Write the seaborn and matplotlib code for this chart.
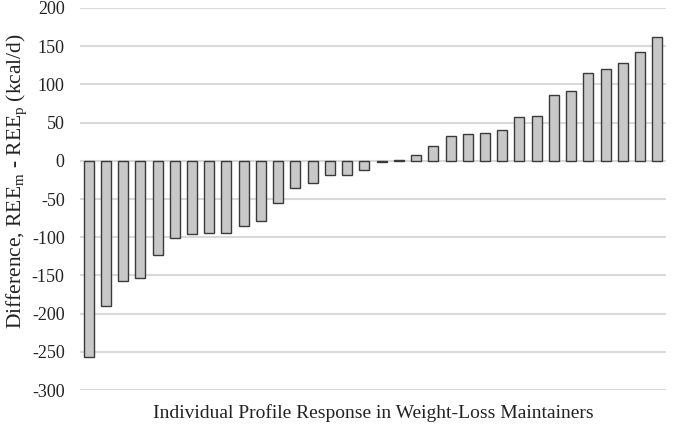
import pandas as pd
import matplotlib
matplotlib.use('Agg')
import matplotlib.pyplot as plt
import seaborn as sns

# Individual differences, measured minus predicted REE (kcal/d), sorted
participants = [str(i) for i in range(1, 35)]
differences = [-257, -190, -157, -153, -123, -101, -96, -95, -94, -85,
               -79, -55, -36, -29, -19, -19, -12, -1.5, 1, 7,
               19, 32, 35, 36, 40, 57, 58, 86, 91, 115,
               120, 128, 142, 162]
y_ticks = list(range(-300, 201, 50))

df = pd.DataFrame({'Participant': participants, 'Difference': differences})

sns.set_style('white')
plt.rcParams['font.family'] = ['Liberation Serif', 'DejaVu Serif']
plt.rcParams['mathtext.fontset'] = 'custom'
plt.rcParams['mathtext.rm'] = 'Liberation Serif'

fig = plt.figure(figsize=(6.92, 4.44), dpi=100)
ax = fig.add_axes([0.1156, 0.1216, 0.8468, 0.8604])

sns.barplot(data=df, x='Participant', y='Difference', color='#c8c8c8',
            saturation=1, edgecolor='#3a3a3a', linewidth=1.0, width=0.58,
            errorbar=None, ax=ax, zorder=3)

ax.set_ylim(-300, 200)
ax.set_yticks(y_ticks)
ax.set_yticklabels([str(t) for t in y_ticks], fontsize=13, color='#222222')
ax.set_xticks([])
ax.yaxis.grid(True, color='#d9d9d9', linewidth=1.5, zorder=0)
ax.set_axisbelow(True)
ax.tick_params(axis='y', length=0, pad=11)
for s in ax.spines.values():
    s.set_visible(False)

ax.set_xlabel('Individual Profile Response in Weight-Loss Maintainers',
              fontsize=14, color='#222222', labelpad=10)
ax.set_ylabel(r'Difference, REE$_\mathregular{m}$ - REE$_\mathregular{p}$ (kcal/d)',
              fontsize=15.5, color='#222222')
ax.yaxis.set_label_coords(-0.086, 0.547)

fig.savefig('out.png', dpi=100)
